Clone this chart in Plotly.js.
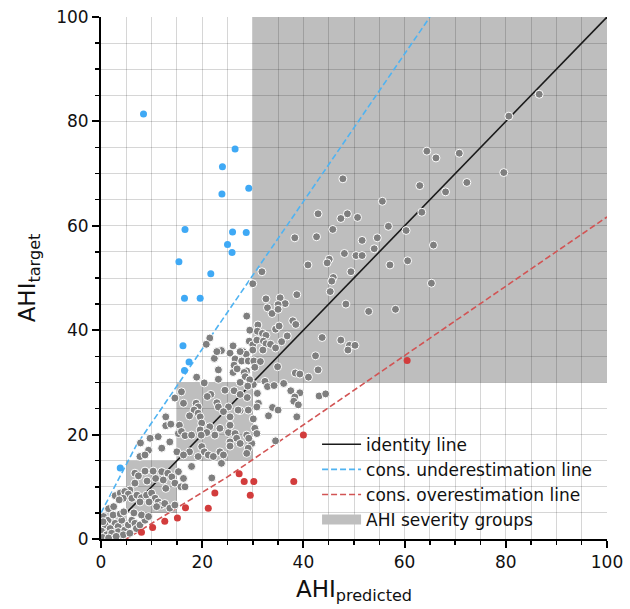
<!DOCTYPE html>
<html>
<head>
<meta charset="utf-8">
<script src="https://cdn.plot.ly/plotly-3.0.1.min.js"></script>
<style>html,body{margin:0;padding:0;background:#fff;}#chart{width:630px;height:609px;}</style>
</head>
<body>
<div id="chart"></div>
<script>
// ---- data (AHI predicted, AHI target) ----
const grayPoints = [
[86.6,85.2],[80.6,81.0],[64.4,74.3],[66.2,73.0],[70.8,73.9],[79.6,70.2],[47.8,69.0],[63.0,67.7],[72.3,68.3],[68.1,66.5],
[55.6,64.7],[63.4,62.6],[42.9,62.3],[48.7,62.3],[47.4,61.4],[50.7,61.6],[45.8,59.3],[56.8,59.9],[60.3,59.1],[38.3,57.7],
[42.6,57.9],[51.6,57.2],[54.6,57.7],[65.7,56.3],[54.0,55.6],[48.1,54.7],[50.4,54.3],[51.6,54.3],[45.1,53.6],[44.7,52.9],
[40.9,52.5],[57.1,52.5],[60.6,53.3],[31.8,51.2],[49.4,51.2],[45.9,50.1],[45.6,49.4],[45.3,47.4],[65.3,49.0],[48.4,45.0],
[52.9,43.6],[58.2,44.0],[47.4,38.1],[49.1,37.1],[50.2,37.1],[48.8,36.2],
[30.0,48.9],[35.4,46.2],[36.4,45.1],[35.0,44.9],[32.9,44.3],[33.8,43.2],[35.0,44.0],[38.7,46.8],[32.6,46.0],[37.9,41.8],
[38.5,41.1],[28.8,42.7],[31.0,41.0],[29.4,40.0],[30.9,39.8],[34.5,40.2],[35.2,40.8],[31.9,39.4],[32.6,39.0],[36.8,38.9],
[29.3,37.9],[30.0,37.2],[30.8,38.1],[32.1,37.9],[32.6,37.4],[33.5,37.3],[34.5,36.6],[30.0,36.2],[32.0,36.2],[43.7,38.6],
[35.7,37.8],[42.4,35.1],[26.1,37.0],[25.5,35.6],[28.1,35.9],[28.7,35.4],[26.5,34.5],[27.8,34.1],[29.1,34.1],[30.2,34.1],
[31.5,34.0],[34.9,33.0],[42.9,32.4],[38.4,31.8],[39.3,31.6],[41.0,31.0],
[30.1,29.6],[32.4,30.2],[32.9,29.2],[34.2,29.4],[36.1,29.8],[37.5,28.4],[39.3,28.0],[38.3,27.2],[38.1,26.4],[39.0,25.7],
[43.1,27.4],[44.4,27.8],[30.9,27.9],[31.1,26.0],[30.8,25.3],[33.9,25.2],[35.0,24.7],[33.1,23.6],[38.7,23.4],[30.1,23.0],
[34.5,18.8],[29.8,18.3],
[23.8,36.1],[27.5,35.9],[22.4,34.6],[26.3,33.3],[28.8,32.2],[30.4,32.9],[23.2,32.4],[23.2,30.6],[18.9,31.0],[20.4,29.9],
[21.5,38.5],[20.8,37.3],[22.9,35.9],[26.1,31.9],[26.9,32.6],[28.3,31.9],[28.5,31.1],[27.5,30.0],[29.4,30.5],[29.0,29.3],
[26.3,28.4],[28.9,27.1],[27.5,24.6],[15.9,28.2],[14.6,27.0],[16.3,26.0],[21.7,27.7],[21.0,27.3],[24.5,28.5],[27.5,27.7],
[18.8,26.0],[19.2,25.3],[18.4,24.7],[19.2,24.1],[19.6,23.4],[17.5,23.6],[22.9,26.1],[23.2,25.3],[25.2,25.3],[24.2,24.4],
[25.5,23.4],[27.1,24.7],[29.1,24.7],[12.8,23.4],[12.8,21.7],[13.8,22.0],[15.5,21.8],[15.3,20.2],[15.9,20.6],[16.6,19.8],
[17.9,19.9],[19.9,22.2],[21.5,21.5],[19.6,20.9],[20.9,20.4],[19.8,19.9],[22.5,19.9],[23.5,21.2],[25.2,20.4],[25.5,21.8],
[26.5,20.2],[26.8,19.3],[28.8,19.9],[29.2,19.3],[30.4,21.2],[30.8,20.2],[29.1,17.4],[28.8,16.4],[25.5,18.6],[25.5,17.8],
[27.5,18.3],[23.8,14.5],[11.3,19.6],[13.6,18.6],[7.8,18.4],[9.7,19.3],
[9.4,17.0],[12.0,17.4],[15.0,16.7],[17.5,16.7],[16.3,16.1],[19.9,17.7],[20.4,16.7],[21.2,16.1],[19.2,15.8],[22.2,15.8],
[23.5,16.7],[24.2,16.1],[17.9,13.9],[21.9,11.7],[7.7,15.8],[8.7,16.1],
[6.7,12.6],[7.4,12.1],[8.7,13.0],[9.1,11.1],[10.8,11.6],[12.0,12.9],[10.3,13.0],[13.2,12.6],[14.0,11.9],[15.3,12.9],
[16.3,11.6],[12.3,11.3],[14.6,10.7],[12.8,9.7],[15.8,10.0],[16.6,10.0],[5.7,9.4],[6.7,10.7],
[2.8,8.3],[3.8,8.8],[4.7,9.1],[5.4,8.6],[4.4,7.8],[3.6,7.5],[6.1,7.8],[7.1,8.4],[8.0,7.9],[7.7,7.1],
[9.0,8.4],[10.0,8.8],[10.7,7.8],[9.5,7.1],[11.3,7.1],[12.0,6.5],[12.6,6.8],[11.0,6.2],[13.6,5.9],[14.6,6.5],
[1.5,5.8],[2.5,6.2],
[0.5,4.3],[1.4,3.6],[2.4,4.6],[2.8,3.0],[0.8,2.7],[1.8,2.0],[0.1,1.5],[3.4,2.4],[4.1,3.6],[3.4,1.4],
[4.7,1.7],[1.1,0.8],[2.1,1.1],[4.4,0.8],[5.4,2.7],[6.1,3.6],[6.7,3.0],[7.0,2.0],[5.7,1.1],[7.7,2.7],
[8.7,3.6],[8.0,4.6],[9.4,4.3],[0.3,0.3],[1.5,0.2],[3.0,0.5],[0.4,3.3],[3.8,4.8],[4.5,5.2],[6.5,5.0]
];
const bluePoints = [
[8.4,81.4],[26.5,74.7],[24.0,71.3],[29.2,67.2],[23.9,66.1],[16.6,59.3],[26.0,58.8],[28.7,58.7],[25.0,56.4],
[25.9,54.9],[15.4,53.1],[21.7,50.8],[16.5,46.1],[19.6,46.1],[16.2,37.0],[17.4,33.9],[16.5,32.3],[3.8,13.6]
];
const redPoints = [
[40.0,19.9],[27.3,12.5],[28.3,11.0],[30.2,11.0],[38.1,11.0],[29.5,8.4],[22.5,8.8],[21.2,5.9],[16.7,6.0],
[15.1,4.0],[12.6,3.4],[10.2,2.2],[8.0,1.3],[60.5,34.2]
];
const identityX = [0, 100];
const identityY = [0, 100];
const underX = [0, 7, 65];
const underY = [5, 18, 100];
const overX = [5, 25, 100];
const overY = [0, 11.9, 61.7];
const severityBounds = [0, 5, 15, 30, 100];
const legendNames = ['identity line', 'cons. underestimation line', 'cons. overestimation line', 'AHI severity groups'];

// ---- build ----
const FONT = 'DejaVu Sans, Liberation Sans, sans-serif';
const gridC = 'rgba(0,0,0,0.16)';
const traces = [
  {x: identityX, y: identityY, mode: 'lines', name: legendNames[0],
   line: {color: '#1a1a1a', width: 1.6}, hoverinfo: 'skip'},
  {x: underX, y: underY, mode: 'lines', name: legendNames[1],
   line: {color: '#4fb3f2', width: 1.6, dash: '6px,3px'}, hoverinfo: 'skip'},
  {x: overX, y: overY, mode: 'lines', name: legendNames[2],
   line: {color: '#d25454', width: 1.6, dash: '6px,3px'}, hoverinfo: 'skip'},
  {x: [null], y: [null], mode: 'lines', name: legendNames[3],
   line: {color: '#bfbfbf', width: 13}},
  {x: grayPoints.map(p => p[0]), y: grayPoints.map(p => p[1]), mode: 'markers', showlegend: false,
   marker: {color: '#7f7f7f', size: 8, line: {color: '#ffffff', width: 1}}},
  {x: bluePoints.map(p => p[0]), y: bluePoints.map(p => p[1]), mode: 'markers', showlegend: false,
   marker: {color: '#3fa9f5', size: 7, line: {width: 0}}},
  {x: redPoints.map(p => p[0]), y: redPoints.map(p => p[1]), mode: 'markers', showlegend: false,
   marker: {color: '#d23c3c', size: 7, line: {width: 0}}}
];

const shapes = [];
for (let i = 0; i < severityBounds.length - 1; i++) {
  shapes.push({type: 'rect', xref: 'x', yref: 'y', layer: 'below',
    x0: severityBounds[i], x1: severityBounds[i + 1], y0: severityBounds[i], y1: severityBounds[i + 1],
    fillcolor: '#bebebe', line: {width: 0}});
}

function axis(title, standoff) {
  return {
    range: [0, 100], tick0: 0, dtick: 20, ticks: 'outside', ticklen: 7, tickwidth: 2, tickcolor: '#000',
    showline: true, linecolor: '#000', linewidth: 2, zeroline: false, layer: 'above traces',
    showgrid: true, gridcolor: gridC, gridwidth: 1,
    minor: {dtick: 5, tick0: 0, ticks: 'outside', ticklen: 4, tickwidth: 1.5, tickcolor: '#000', showgrid: true, gridcolor: gridC, gridwidth: 1},
    tickfont: {family: FONT, size: 17, color: '#111'},
    title: {text: title, font: {family: FONT, size: 23, color: '#111'}, standoff: standoff},
    fixedrange: true
  };
}

const layout = {
  width: 630, height: 609,
  margin: {l: 101, r: 23, t: 17, b: 70},
  paper_bgcolor: '#fff', plot_bgcolor: '#fff',
  xaxis: axis('AHI<sub>predicted</sub>', 9),
  yaxis: axis('AHI<sub>target</sub>', 14),
  shapes: shapes,
  showlegend: true,
  legend: {x: 0.427, y: 0.215, xanchor: 'left', yanchor: 'top', bgcolor: 'rgba(0,0,0,0)', borderwidth: 0,
    font: {family: FONT, size: 17, color: '#111'}, itemwidth: 39, tracegroupgap: 0},
  font: {family: FONT}
};

Plotly.newPlot('chart', traces, layout, {displayModeBar: false, staticPlot: true});
</script>
</body>
</html>
